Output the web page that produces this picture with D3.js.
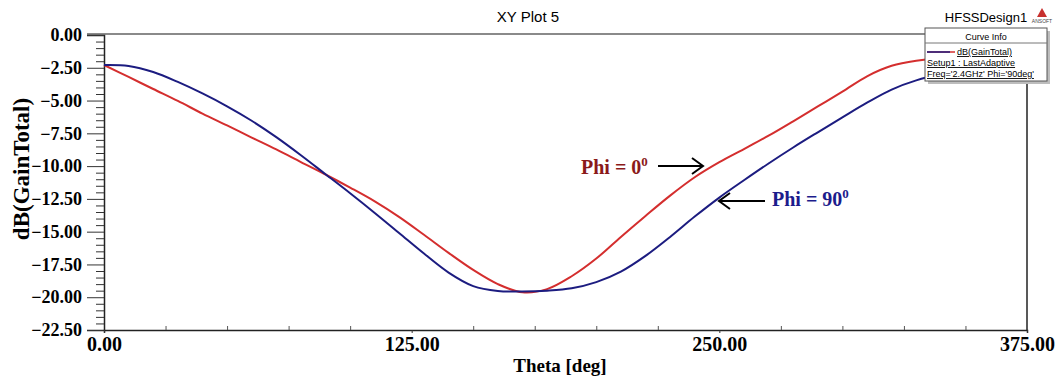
<!DOCTYPE html>
<html>
<head>
<meta charset="utf-8">
<script src="https://d3js.org/d3.v7.min.js"></script>
<style>
  body { margin: 0; background: #fff; }
  svg { display: block; }
</style>
</head>
<body>
<div id="plot"></div>
<script>
// Theta values (deg) and gain curves (dB)
var theta = [0, 10, 20, 30, 40, 50, 60, 70, 80, 90, 100, 110, 120, 130, 140, 150, 160, 170, 180,
  190, 200, 210, 220, 230, 240, 250, 260, 270, 280, 290, 300, 310, 320, 330, 340, 350, 360];

var gainPhi0 = [-2.29, -3.20, -4.12, -5.03, -5.99, -6.90, -7.82, -8.73, -9.69, -10.64, -11.64, -12.69,
  -13.89, -15.24, -16.62, -17.92, -19.00, -19.62, -19.38, -18.40, -17.05, -15.40, -13.80, -12.25,
  -10.85, -9.70, -8.70, -7.68, -6.58, -5.45, -4.32, -3.15, -2.35, -1.97, -1.80, -1.80, -1.90];

var gainPhi90 = [-2.29, -2.36, -2.82, -3.58, -4.46, -5.44, -6.54, -7.79, -9.17, -10.62, -12.07, -13.57,
  -15.12, -16.67, -18.12, -19.15, -19.52, -19.56, -19.50, -19.32, -18.85, -18.05, -16.85, -15.40,
  -13.85, -12.40, -11.08, -9.80, -8.58, -7.42, -6.28, -5.16, -4.16, -3.46, -3.00, -2.69, -2.46];

var xTicks = [0, 125, 250, 375];
var yTicks = [0, -2.5, -5, -7.5, -10, -12.5, -15, -17.5, -20, -22.5];

var legendLines = ["Setup1 : LastAdaptive", "Freq='2.4GHz' Phi='90deg'"];

// svg area
var svgWidth = 1059;
var svgHeight = 377;

var margin = { top: 35, right: 32, bottom: 47, left: 104 };
var width = svgWidth - margin.left - margin.right;
var height = svgHeight - margin.top - margin.bottom;

var svg = d3.select("#plot")
  .append("svg")
  .attr("width", svgWidth)
  .attr("height", svgHeight);

svg.append("rect")
  .attr("width", svgWidth)
  .attr("height", svgHeight)
  .attr("fill", "#fff");

var chartGroup = svg.append("g")
  .attr("transform", `translate(${margin.left}, ${margin.top})`);

var xScale = d3.scaleLinear().domain([0, 375]).range([0, width]);
var yScale = d3.scaleLinear().domain([-22.5, 0]).range([height, 0]);

var serif = "'Liberation Serif', 'Times New Roman', serif";
var sans = "'Liberation Sans', Arial, sans-serif";

// frame: grey top, dark right
chartGroup.append("line")
  .attr("x1", -17).attr("x2", width)
  .attr("y1", -1).attr("y2", -1)
  .attr("stroke", "#8a8a8a")
  .attr("stroke-width", 2);

chartGroup.append("line")
  .attr("x1", width).attr("x2", width)
  .attr("y1", 0).attr("y2", height)
  .attr("stroke", "#222")
  .attr("stroke-width", 1.5);

// left axis with minor ticks
var leftAxis = d3.axisLeft(yScale)
  .tickValues(yTicks)
  .tickSize(17)
  .tickPadding(5)
  .tickFormat(d3.format(".2f"));

var yAxis = chartGroup.append("g")
  .call(leftAxis);

yAxis.select(".domain").attr("stroke", "#222").attr("stroke-width", 1.5);
yAxis.selectAll(".tick line").attr("stroke", "#333");
yAxis.selectAll("text")
  .attr("font-family", serif)
  .attr("font-weight", "bold")
  .attr("font-size", "18px")
  .attr("fill", "#000");

var yMinor = d3.range(-22.5, 0.01, 0.5).filter(d => Math.abs(d / 2.5 - Math.round(d / 2.5)) > 0.01);
chartGroup.append("g")
  .call(d3.axisLeft(yScale).tickValues(yMinor).tickSize(8).tickFormat(""))
  .call(g => g.select(".domain").remove())
  .selectAll("line").attr("stroke", "#333");

// bottom axis
var bottomAxis = d3.axisBottom(xScale)
  .tickValues(xTicks)
  .tickSize(3)
  .tickPadding(4)
  .tickFormat(d3.format(".2f"));

var xAxis = chartGroup.append("g")
  .attr("transform", `translate(0, ${height})`)
  .call(bottomAxis);

xAxis.select(".domain").attr("stroke", "#222").attr("stroke-width", 1.5);
xAxis.selectAll(".tick line").attr("stroke", "#333");
xAxis.selectAll("text")
  .attr("font-family", serif)
  .attr("font-weight", "bold")
  .attr("font-size", "20px")
  .attr("fill", "#000");

// x minor ticks point inward
var xMinor = d3.range(25, 375, 25).filter(d => d % 125 !== 0);
chartGroup.append("g")
  .attr("transform", `translate(0, ${height})`)
  .call(d3.axisTop(xScale).tickValues(xMinor).tickSize(4).tickFormat(""))
  .call(g => g.select(".domain").remove())
  .selectAll("line").attr("stroke", "#555");

// curves
var line = d3.line()
  .x((d, i) => xScale(theta[i]))
  .y(d => yScale(d))
  .curve(d3.curveCatmullRom.alpha(0.5));

chartGroup.append("path")
  .datum(gainPhi0)
  .attr("d", line)
  .attr("fill", "none")
  .attr("stroke", "#d42e2e")
  .attr("stroke-width", 2);

chartGroup.append("path")
  .datum(gainPhi90)
  .attr("d", line)
  .attr("fill", "none")
  .attr("stroke", "#1c1c80")
  .attr("stroke-width", 2);

// axis titles
svg.append("text")
  .attr("transform", "translate(29, 169) rotate(-90)")
  .attr("text-anchor", "middle")
  .attr("font-family", serif)
  .attr("font-weight", "bold")
  .attr("font-size", "23px")
  .text("dB(GainTotal)");

svg.append("text")
  .attr("x", 560)
  .attr("y", 372)
  .attr("text-anchor", "middle")
  .attr("font-family", serif)
  .attr("font-weight", "bold")
  .attr("font-size", "19px")
  .text("Theta [deg]");

svg.append("text")
  .attr("x", 528)
  .attr("y", 22)
  .attr("text-anchor", "middle")
  .attr("font-family", sans)
  .attr("font-size", "15px")
  .text("XY Plot 5");

svg.append("text")
  .attr("x", 986)
  .attr("y", 22)
  .attr("text-anchor", "middle")
  .attr("font-family", sans)
  .attr("font-size", "13px")
  .text("HFSSDesign1");

// ansoft logo
svg.append("path")
  .attr("d", "M1042,8 L1047,17 L1037,17 Z")
  .attr("fill", "#c8312e");
svg.append("text")
  .attr("x", 1042).attr("y", 23)
  .attr("text-anchor", "middle")
  .attr("font-family", sans)
  .attr("font-size", "5px")
  .attr("fill", "#444")
  .text("ANSOFT");

// annotations with arrows
function annotate(label, color, tx, ty, x1, x2, ay) {
  var t = svg.append("text")
    .attr("x", tx).attr("y", ty)
    .attr("font-family", serif)
    .attr("font-weight", "bold")
    .attr("font-size", "20px")
    .attr("fill", color);
  t.append("tspan").text(label);
  t.append("tspan").attr("dy", -8).attr("font-size", "13px").text("0");

  var dir = x2 > x1 ? -1 : 1;
  svg.append("line")
    .attr("x1", x1).attr("x2", x2)
    .attr("y1", ay).attr("y2", ay)
    .attr("stroke", "#000").attr("stroke-width", 2);
  svg.append("path")
    .attr("d", `M${x2 + dir * 11},${ay - 8} L${x2},${ay} L${x2 + dir * 11},${ay + 8}`)
    .attr("fill", "none")
    .attr("stroke", "#000").attr("stroke-width", 2);
}

annotate("Phi = 0", "#8b1a1a", 581, 174, 658, 703, 166);
annotate("Phi = 90", "#1c1c8c", 772, 206, 765, 719, 201);

// curve info box
var legend = svg.append("g");

legend.append("rect")
  .attr("x", 928).attr("y", 31)
  .attr("width", 122).attr("height", 53)
  .attr("fill", "#bdbdbd");

legend.append("rect")
  .attr("x", 925).attr("y", 28)
  .attr("width", 122).attr("height", 53)
  .attr("fill", "#fff")
  .attr("stroke", "#555");

legend.append("line")
  .attr("x1", 925).attr("x2", 1047)
  .attr("y1", 43).attr("y2", 43)
  .attr("stroke", "#777");

legend.append("text")
  .attr("x", 986).attr("y", 40)
  .attr("text-anchor", "middle")
  .attr("font-family", sans)
  .attr("font-size", "9px")
  .text("Curve Info");

legend.append("line")
  .attr("x1", 927).attr("x2", 955)
  .attr("y1", 52).attr("y2", 52)
  .attr("stroke", "#d42e2e").attr("stroke-width", 1.5);
legend.append("line")
  .attr("x1", 927).attr("x2", 950)
  .attr("y1", 52).attr("y2", 52)
  .attr("stroke", "#1c1c80").attr("stroke-width", 1.5);

legend.append("text")
  .attr("x", 957).attr("y", 55)
  .attr("font-family", sans)
  .attr("font-size", "9px")
  .attr("text-decoration", "underline")
  .text("dB(GainTotal)");

legend.selectAll(".row")
  .data(legendLines)
  .enter()
  .append("text")
  .attr("class", "row")
  .attr("x", 927)
  .attr("y", (d, i) => 66 + i * 11)
  .attr("font-family", sans)
  .attr("font-size", "9px")
  .attr("text-decoration", "underline")
  .text(d => d);
</script>
</body>
</html>
